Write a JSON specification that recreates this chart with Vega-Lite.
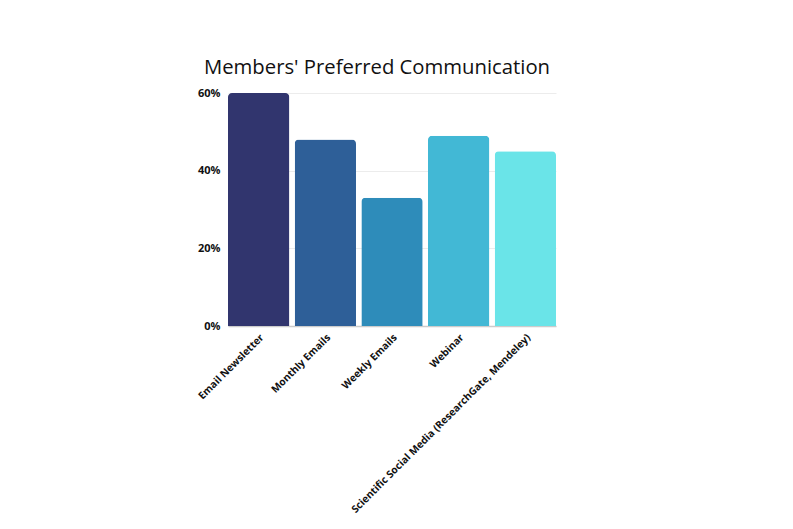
{
  "$schema": "https://vega.github.io/schema/vega-lite/v6.json",
  "width": 328,
  "height": 233,
  "autosize": {"type": "none"},
  "padding": {"left": 228, "top": 93, "right": 237, "bottom": 203},
  "background": "white",
  "config": {
    "font": "Open Sans",
    "view": {"stroke": null}
  },
  "title": {
    "text": "Members' Preferred Communication",
    "font": "Open Sans",
    "fontSize": 20.3,
    "fontWeight": "normal",
    "color": "#111111",
    "anchor": "middle",
    "dx": -15,
    "offset": 9
  },
  "data": {
    "values": [
      {"channel": "Email Newsletter", "share": 0.60},
      {"channel": "Monthly Emails", "share": 0.48},
      {"channel": "Weekly Emails", "share": 0.33},
      {"channel": "Webinar", "share": 0.49},
      {"channel": "Scientific Social Media (ResearchGate, Mendeley)", "share": 0.45}
    ]
  },
  "mark": {"type": "bar", "cornerRadiusTopLeft": 4, "cornerRadiusTopRight": 4},
  "encoding": {
    "x": {
      "field": "channel",
      "type": "nominal",
      "sort": null,
      "title": null,
      "scale": {"paddingInner": 0.08, "paddingOuter": 0},
      "axis": {
        "labelAngle": -45,
        "labelFont": "Open Sans",
        "labelFontWeight": "bold",
        "labelFontSize": 10.2,
        "labelColor": "#111111",
        "labelLimit": 400,
        "labelPadding": 6,
        "labelDx": 4,
        "labelDy": 11,
        "ticks": false,
        "domainColor": "#cccccc",
        "domainWidth": 1.5
      }
    },
    "y": {
      "field": "share",
      "type": "quantitative",
      "title": null,
      "scale": {"domain": [0, 0.6]},
      "axis": {
        "values": [0, 0.2, 0.4, 0.6],
        "format": ".0%",
        "labelFont": "Open Sans",
        "labelFontWeight": "bold",
        "labelFontSize": 11,
        "labelColor": "#111111",
        "labelPadding": 8,
        "ticks": false,
        "domain": false,
        "gridColor": "#ececec"
      }
    },
    "color": {
      "field": "channel",
      "type": "nominal",
      "sort": null,
      "legend": null,
      "scale": {"range": ["#31356e", "#2e5f98", "#2e8cba", "#42b8d5", "#6ae4e8"]}
    }
  }
}
